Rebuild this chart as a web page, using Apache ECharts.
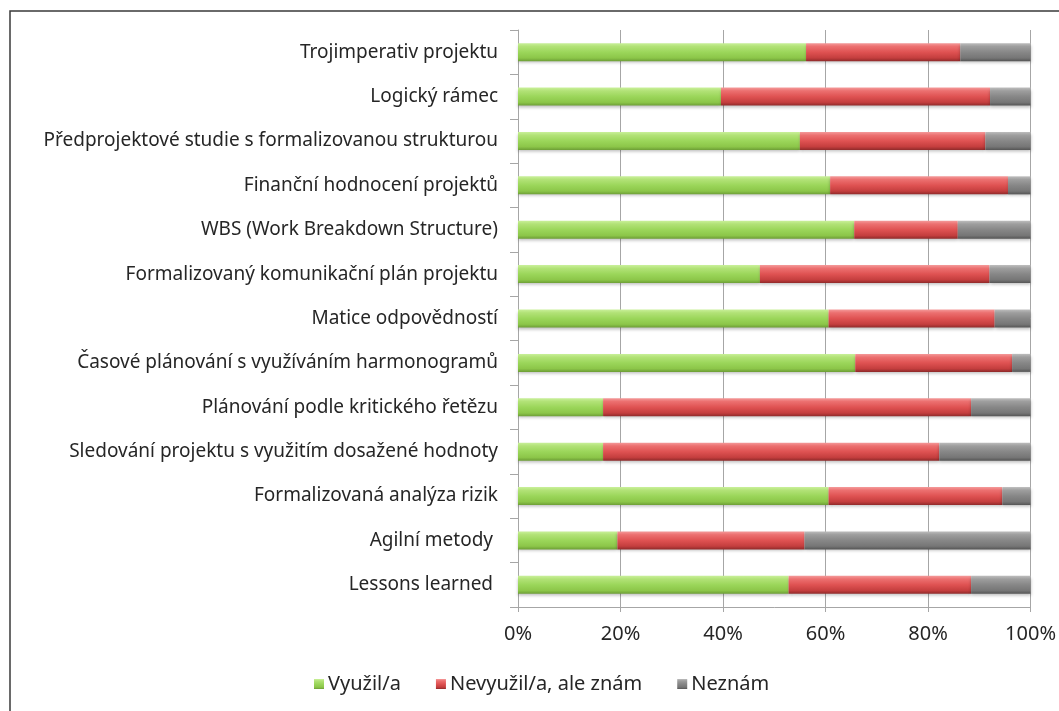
<!DOCTYPE html>
<html>
<head>
<meta charset="utf-8">
<script src="https://cdn.jsdelivr.net/npm/echarts@6/dist/echarts.min.js"></script>
<style>
  html, body { margin: 0; padding: 0; background: #fff; }
  #chart { width: 1059px; height: 711px; }
</style>
</head>
<body>
<div id="chart"></div>
<script>
// categories top to bottom
const categories = [
  'Trojimperativ projektu',
  'Logický rámec',
  'Předprojektové studie s formalizovanou strukturou',
  'Finanční hodnocení projektů',
  'WBS (Work Breakdown Structure)',
  'Formalizovaný komunikační plán projektu',
  'Matice odpovědností',
  'Časové plánování s využíváním harmonogramů',
  'Plánování podle kritického řetězu',
  'Sledování projektu s využitím dosažené hodnoty',
  'Formalizovaná analýza rizik',
  'Agilní metody ',
  'Lessons learned '
]

const used = [56.2, 39.6, 55.0, 60.9, 65.6, 47.2, 60.6, 65.8, 16.6, 16.6, 60.6, 19.4, 52.8]
const knownNotUsed = [30.1, 52.5, 36.2, 34.7, 20.2, 44.8, 32.4, 30.6, 71.8, 65.6, 33.9, 36.5, 35.6]
const unknown = [13.7, 7.9, 8.8, 4.4, 14.2, 8.0, 7.0, 3.6, 11.6, 17.8, 5.5, 44.1, 11.6]

const seriesNames = ['Využil/a', 'Nevyužil/a, ale znám', 'Neznám']
const xTicks = [0, 20, 40, 60, 80, 100]

const FONT = "'Noto Sans', sans-serif"

// bevel-ish vertical gradient for each bar colour
function bevel(light, top, mid, bottom, dark) {
  return new echarts.graphic.LinearGradient(0, 0, 0, 1, [
    { offset: 0, color: light },
    { offset: 0.18, color: top },
    { offset: 0.5, color: mid },
    { offset: 0.82, color: bottom },
    { offset: 1, color: dark },
  ])
}

const fills = [
  bevel('#c9f09a', '#b2e277', '#9bd65a', '#8cc649', '#6d9e36'),
  bevel('#f49a9a', '#ec7070', '#df5252', '#c43e3e', '#8f2a2a'),
  bevel('#bdbdbd', '#9e9e9e', '#878787', '#767676', '#555555'),
]
const legendColors = ['#92d050', '#d04848', '#8a8a8a']

const chart = echarts.init(document.getElementById('chart'), null, { renderer: 'canvas' })

const option = {
  animation: false,
  color: legendColors,
  graphic: [{
    type: 'rect',
    shape: { x: 10, y: 11, width: 1100, height: 800 },
    style: { fill: 'none', stroke: '#3a3a3a', lineWidth: 1.5 },
    silent: true,
  }],
  grid: { left: 518, right: 28, top: 30, bottom: 104, containLabel: false },
  legend: {
    bottom: 12,
    left: 309,
    itemWidth: 10,
    itemHeight: 10,
    itemGap: 35,
    icon: 'rect',
    textStyle: { color: '#262626', fontFamily: FONT, fontSize: 20, padding: [0, 0, 0, -1] },
    data: seriesNames,
  },
  xAxis: {
    type: 'value',
    min: 0,
    max: 100,
    interval: 20,
    axisLine: { show: true, lineStyle: { color: '#a6a6a6' } },
    axisTick: { show: true, length: 5, lineStyle: { color: '#a6a6a6' } },
    axisLabel: {
      color: '#262626', fontFamily: FONT, fontSize: 20, margin: 17,
      formatter: v => xTicks.includes(v) ? v + '%' : '',
    },
    splitLine: { show: true, lineStyle: { color: '#a6a6a6', width: 1 } },
  },
  yAxis: {
    type: 'category',
    inverse: true,
    data: categories,
    axisLine: { show: true, lineStyle: { color: '#a6a6a6' } },
    axisTick: { show: true, length: 8, lineStyle: { color: '#a6a6a6' } },
    axisLabel: { color: '#262626', fontFamily: FONT, fontSize: 19, margin: 20 },
  },
  series: [used, knownNotUsed, unknown].map((d, i) => ({
    name: seriesNames[i],
    type: 'bar',
    stack: 'total',
    barWidth: 18,
    data: d,
    itemStyle: {
      color: fills[i],
      shadowColor: 'rgba(0,0,0,0.25)',
      shadowBlur: 3,
      shadowOffsetY: 2,
    },
  })),
}

chart.setOption(option)
</script>
</body>
</html>
